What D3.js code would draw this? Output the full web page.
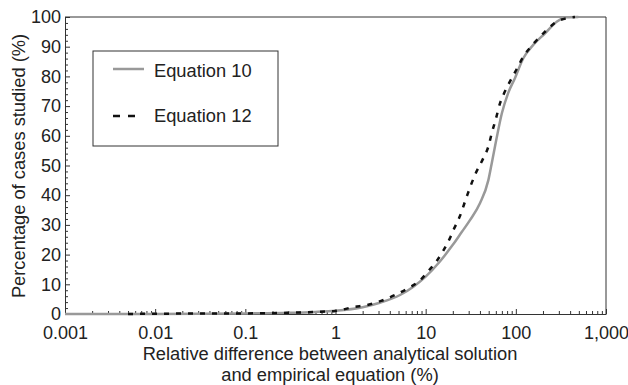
<!DOCTYPE html>
<html>
  <head>
    <meta charset="utf-8">
    <title>Relative difference CDF</title>
    <script src="https://d3js.org/d3.v7.min.js"></script>
    <style>
      body { margin: 0; background: #fff; }
      svg { display: block; font-family: "Liberation Sans", Arial, sans-serif; }
      .axis path, .axis line { stroke: #333; }
      .axis text { font-size: 18px; fill: #222; }
      .title { font-size: 18.3px; fill: #222; }
    </style>
  </head>
  <body>
    <svg id="chart" width="628" height="385"></svg>
    <script>
      // data (x = relative difference %, y = cumulative % of cases)
      const eq10X = [0.001, 0.01, 0.1, 0.3, 0.6, 1, 2, 3.1, 5.2, 7.3, 10, 14.3, 19.9, 25, 31, 40, 49.5, 54, 61, 70, 82, 98, 121, 156, 211, 284, 366, 493];
      const eq10Y = [0, 0, 0.2, 0.4, 0.7, 1.1, 2.3, 3.8, 6.4, 9.2, 12.6, 17.6, 23.2, 27.5, 31.6, 37.3, 45, 50.7, 59, 67.6, 74.3, 79.5, 86.1, 90.6, 94.5, 98.4, 99.9, 100];
      const eq12X = [0.005, 0.01, 0.1, 0.3, 0.6, 1, 1.56, 2.31, 3.2, 4.57, 6.4, 8.5, 10.95, 13.5, 15.6, 18.9, 20.5, 24, 28.5, 35.2, 43.5, 49.5, 54, 60.3, 66.7, 72.6, 84.7, 102, 121, 153, 202, 296, 453];
      const eq12Y = [0, 0.1, 0.2, 0.4, 0.7, 1.0, 2.3, 3.1, 4.4, 6.4, 8.7, 11.1, 14.8, 18.2, 21.2, 26, 28.5, 33, 39.5, 46.8, 52.4, 56.3, 60.8, 65.9, 70.9, 73.7, 77.9, 82.4, 86.6, 90.6, 94.5, 98.7, 100];
      const xTicks = [0.001, 0.01, 0.1, 1, 10, 100, 1000];
      const xTickLabels = ["0.001", "0.01", "0.1", "1", "10", "100", "1,000"];
      const yTicks = [0, 10, 20, 30, 40, 50, 60, 70, 80, 90, 100];
      const seriesNames = ["Equation 10", "Equation 12"];

      const svg = d3.select("#chart");
      const plotLeft = 65, plotRight = 606, plotTop = 17, plotBottom = 314;

      const x = d3.scaleLog().domain([0.001, 1000]).range([plotLeft, plotRight]);
      const y = d3.scaleLinear().domain([0, 100]).range([plotBottom, plotTop]);

      // minor ticks
      let xMinor = [];
      for (let e = -3; e < 3; e++) {
        for (let k = 2; k <= 9; k++) xMinor.push(k * Math.pow(10, e));
      }
      const yMinor = d3.range(0, 101, 2).filter(function(d) { return d % 10 != 0; });

      svg.append("g")
        .attr("class", "axis")
        .attr("transform", "translate(0," + plotBottom + ")")
        .call(d3.axisBottom(x).tickValues(xMinor).tickSize(-3).tickFormat(""))
        .call(function(g) { g.select(".domain").remove(); });
      svg.append("g")
        .attr("class", "axis")
        .attr("transform", "translate(" + plotLeft + ",0)")
        .call(d3.axisLeft(y).tickValues(yMinor).tickSize(-3).tickFormat(""))
        .call(function(g) { g.select(".domain").remove(); });

      svg.append("g")
        .attr("class", "axis")
        .attr("transform", "translate(0," + plotBottom + ")")
        .call(d3.axisBottom(x).tickValues(xTicks).tickSizeInner(-5).tickSizeOuter(0).tickPadding(12.5)
          .tickFormat(function(d, i) { return xTickLabels[i]; }));
      svg.append("g")
        .attr("class", "axis")
        .attr("transform", "translate(" + plotLeft + ",0)")
        .call(d3.axisLeft(y).tickValues(yTicks).tickSizeInner(-5).tickSizeOuter(0).tickPadding(4))
        .selectAll("text").attr("dy", "0.32em");

      // frame top and right
      svg.append("path")
        .attr("d", "M" + plotLeft + "," + plotTop + "H" + plotRight + "V" + plotBottom)
        .attr("fill", "none")
        .attr("stroke", "#333");

      const line = d3.line()
        .x(function(d) { return x(d[0]); })
        .y(function(d) { return y(d[1]); })
        .curve(d3.curveMonotoneX);

      svg.append("path")
        .datum(d3.zip(eq10X, eq10Y))
        .attr("d", line)
        .attr("fill", "none")
        .attr("stroke", "#999")
        .attr("stroke-width", 2.5);
      svg.append("path")
        .datum(d3.zip(eq12X, eq12Y))
        .attr("d", line)
        .attr("fill", "none")
        .attr("stroke", "#111")
        .attr("stroke-width", 2.5)
        .attr("stroke-dasharray", "5,7");

      // legend
      const legend = svg.append("g");
      legend.append("rect")
        .attr("x", 93).attr("y", 51).attr("width", 185).attr("height", 95)
        .attr("fill", "#fff").attr("stroke", "#333");
      legend.append("line")
        .attr("x1", 113).attr("x2", 144).attr("y1", 69).attr("y2", 69)
        .attr("stroke", "#999").attr("stroke-width", 2.5);
      legend.append("line")
        .attr("x1", 113).attr("x2", 135).attr("y1", 116).attr("y2", 116)
        .attr("stroke", "#111").attr("stroke-width", 2.5).attr("stroke-dasharray", "7,8");
      legend.selectAll("text")
        .data(seriesNames)
        .enter().append("text")
          .attr("class", "title")
          .attr("x", 154)
          .attr("y", function(d, i) { return i == 0 ? 77 : 122; })
          .text(function(d) { return d; });

      // axis titles
      svg.append("text")
        .attr("class", "title")
        .attr("text-anchor", "middle")
        .attr("x", 330).attr("y", 360)
        .text("Relative difference between analytical solution");
      svg.append("text")
        .attr("class", "title")
        .attr("text-anchor", "middle")
        .attr("x", 330).attr("y", 381)
        .text("and empirical equation (%)");
      svg.append("text")
        .attr("class", "title")
        .attr("text-anchor", "middle")
        .attr("transform", "translate(25,166) rotate(-90)")
        .text("Percentage of cases studied (%)");
    </script>
  </body>
</html>
